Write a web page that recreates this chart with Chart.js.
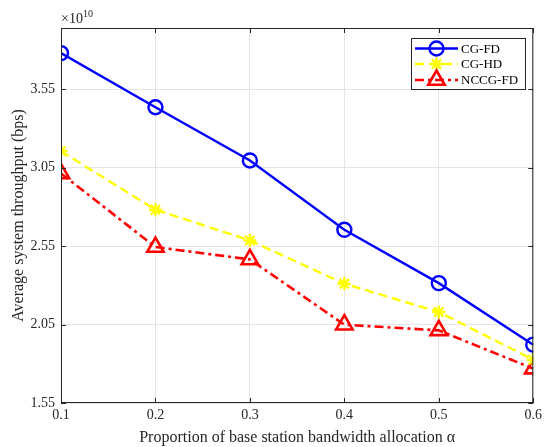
<!DOCTYPE html>
<html>
<head>
<meta charset="utf-8">
<script src="https://cdn.jsdelivr.net/npm/chart.js@4"></script>
<style>
  html, body { margin: 0; padding: 0; background: #fff; }
  #wrap { width: 546px; height: 447px; }
</style>
</head>
<body>
<div id="wrap"><canvas id="chart" width="546" height="447"></canvas></div>
<script>
// values (throughput in units of 1e10 bps)
const alphaValues = [0.1, 0.2, 0.3, 0.4, 0.5, 0.6];
const cgFd = [3.78, 3.435, 3.096, 2.654, 2.314, 1.922];
const cgHd = [3.155, 2.782, 2.586, 2.31, 2.13, 1.826];
const nccgFd = [3.013, 2.544, 2.465, 2.049, 2.013, 1.769];
const yTicks = [1.55, 2.05, 2.55, 3.05, 3.55];
const xTicks = [0.1, 0.2, 0.3, 0.4, 0.5, 0.6];
const seriesNames = ['CG-FD', 'CG-HD', 'NCCG-FD'];

const axisColor = '#262626';
const serif = '"Liberation Serif", "DejaVu Serif", serif';

function toPoints(ys) {
  return alphaValues.map((x, i) => ({ x: x, y: ys[i] }));
}

// box, inward ticks, exponent label and legend drawn the way MATLAB does
const matlabFrame = {
  id: 'matlabFrame',
  afterDraw(chart) {
    const ctx = chart.ctx;
    const a = chart.chartArea;
    const xs = chart.scales.x;
    const ys = chart.scales.y;
    ctx.save();
    ctx.strokeStyle = axisColor;
    ctx.lineWidth = 1;
    ctx.strokeRect(a.left + 0.5, a.top + 0.5, a.right - a.left - 1, a.bottom - a.top - 1);

    const tl = 5;
    ctx.beginPath();
    xTicks.forEach(v => {
      const px = Math.round(xs.getPixelForValue(v)) + 0.5;
      ctx.moveTo(px, a.bottom); ctx.lineTo(px, a.bottom - tl);
      ctx.moveTo(px, a.top); ctx.lineTo(px, a.top + tl);
    });
    yTicks.forEach(v => {
      const py = Math.round(ys.getPixelForValue(v)) + 0.5;
      ctx.moveTo(a.left, py); ctx.lineTo(a.left + tl, py);
      ctx.moveTo(a.right, py); ctx.lineTo(a.right - tl, py);
    });
    ctx.stroke();

    // exponent
    ctx.fillStyle = axisColor;
    ctx.textBaseline = 'alphabetic';
    ctx.textAlign = 'left';
    ctx.font = '14px ' + serif;
    ctx.fillText('\u00d710', a.left, a.top - 5);
    const w = ctx.measureText('\u00d710').width;
    ctx.font = '10px ' + serif;
    ctx.fillText('10', a.left + w, a.top - 11);

    // legend
    const lx = 411, ly = 38, lw = 114, lh = 51;
    ctx.fillStyle = '#fff';
    ctx.fillRect(lx, ly, lw, lh);
    ctx.strokeStyle = axisColor;
    ctx.lineWidth = 1;
    ctx.strokeRect(lx + 0.5, ly + 0.5, lw, lh);
    const rows = [48.5, 64, 80];
    chart.data.datasets.forEach((ds, i) => {
      const y = rows[i];
      ctx.save();
      ctx.strokeStyle = ds.borderColor;
      ctx.fillStyle = 'rgba(0,0,0,0)';
      ctx.lineWidth = ds.borderWidth;
      ctx.setLineDash(ds.borderDash || []);
      ctx.beginPath();
      ctx.moveTo(415, y); ctx.lineTo(458, y);
      ctx.stroke();
      ctx.setLineDash([]);
      ctx.lineWidth = ds.pointBorderWidth;
      Chart.helpers.drawPoint(ctx, {
        pointStyle: ds.pointStyle,
        radius: ds.pointRadius,
        borderWidth: ds.pointBorderWidth,
        rotation: 0
      }, 436.5, y);
      ctx.restore();
      ctx.fillStyle = '#000';
      ctx.font = '13px ' + serif;
      ctx.textBaseline = 'middle';
      ctx.fillText(seriesNames[i], 461, y + 1);
    });
    ctx.restore();
  }
};

new Chart(document.getElementById('chart'), {
  type: 'line',
  data: {
    datasets: [
      {
        label: seriesNames[0],
        data: toPoints(cgFd),
        borderColor: '#0000ff',
        backgroundColor: 'rgba(0,0,0,0)',
        borderWidth: 2.4,
        pointStyle: 'circle',
        pointRadius: 7,
        pointBorderWidth: 2.4,
        pointBackgroundColor: 'rgba(0,0,0,0)',
        pointBorderColor: '#0000ff'
      },
      {
        label: seriesNames[1],
        data: toPoints(cgHd),
        borderColor: '#ffff00',
        backgroundColor: 'rgba(0,0,0,0)',
        borderWidth: 2.4,
        borderDash: [9, 5],
        pointStyle: 'star',
        pointRadius: 6.5,
        pointBorderWidth: 2.4,
        pointBackgroundColor: 'rgba(0,0,0,0)',
        pointBorderColor: '#ffff00'
      },
      {
        label: seriesNames[2],
        data: toPoints(nccgFd),
        borderColor: '#ff0000',
        backgroundColor: 'rgba(0,0,0,0)',
        borderWidth: 2.6,
        borderDash: [9, 4, 3, 4],
        pointStyle: 'triangle',
        pointRadius: 9.5,
        pointBorderWidth: 2.6,
        pointBackgroundColor: 'rgba(0,0,0,0)',
        pointBorderColor: '#ff0000'
      }
    ]
  },
  options: {
    responsive: false,
    animation: false,
    layout: { padding: { top: 28, right: 9, left: 0, bottom: 0 } },
    plugins: {
      legend: { display: false },
      tooltip: { enabled: false }
    },
    scales: {
      x: {
        type: 'linear',
        min: 0.1,
        max: 0.6,
        afterBuildTicks: s => { s.ticks = xTicks.map(v => ({ value: v })); },
        afterFit: s => { s.height = 44; },
        grid: { color: '#e5e5e5', drawTicks: false },
        border: { display: false },
        ticks: {
          padding: 4,
          color: axisColor,
          font: { family: serif, size: 14 },
          callback: v => v.toFixed(1)
        },
        title: {
          display: true,
          text: 'Proportion of base station bandwidth allocation \u03b1',
          color: axisColor,
          font: { family: serif, size: 16 },
          padding: { top: 0, bottom: 0 }
        }
      },
      y: {
        type: 'linear',
        min: 1.55,
        max: 3.94,
        afterBuildTicks: s => { s.ticks = yTicks.map(v => ({ value: v })); },
        afterFit: s => { s.width = 61; },
        grid: { color: '#e5e5e5', drawTicks: false },
        border: { display: false },
        ticks: {
          padding: 6,
          color: axisColor,
          font: { family: serif, size: 14 },
          callback: v => v.toFixed(2)
        },
        title: {
          display: true,
          text: 'Average system throughput (bps)',
          color: axisColor,
          font: { family: serif, size: 16 },
          padding: { top: 9, bottom: 0 }
        }
      }
    }
  },
  plugins: [matlabFrame]
});
</script>
</body>
</html>
